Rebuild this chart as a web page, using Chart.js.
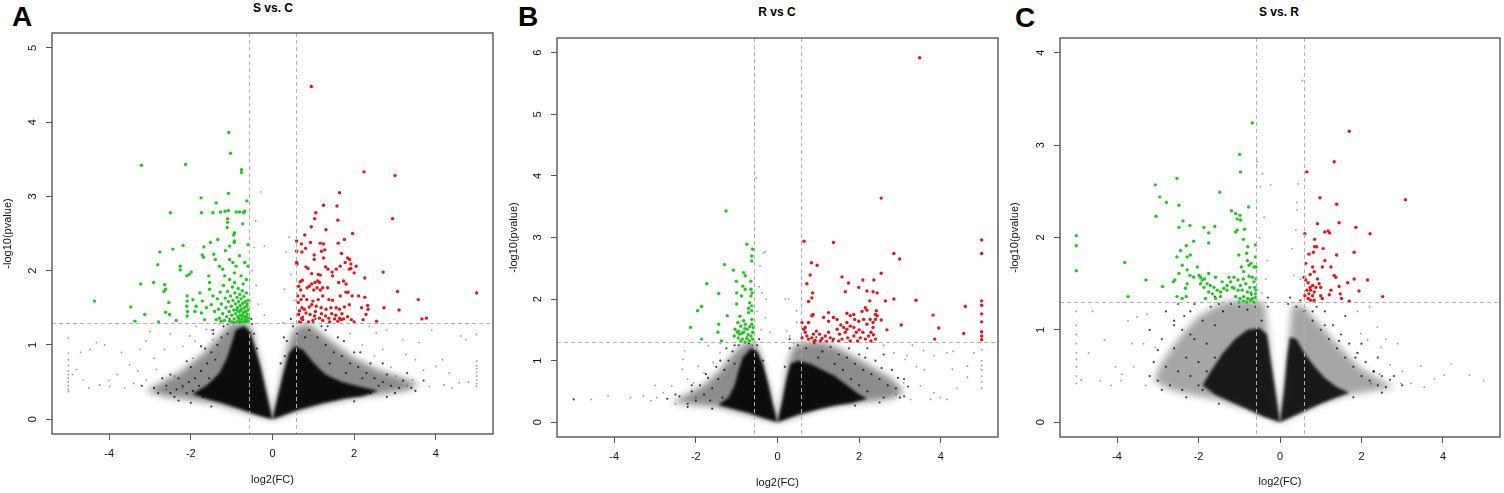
<!DOCTYPE html>
<html>
<head>
<meta charset="utf-8">
<script src="https://cdn.jsdelivr.net/npm/chart.js@4.4.0/dist/chart.umd.min.js"></script>
<style>
  body { margin: 0; background: #fff; width: 1504px; height: 493px; overflow: hidden; position: relative;
         font-family: "Liberation Sans", Arial, sans-serif; }
  canvas { position: absolute; top: 0; }
  .letter { position: absolute; font-weight: bold; font-size: 28px; line-height: 28px; }
  .title { position: absolute; width: 200px; text-align: center; font-weight: bold; font-size: 12px; line-height: 12px; }
</style>
</head>
<body>
<div class="letter" style="left:12px;top:3px">A</div>
<div class="letter" style="left:518px;top:3px">B</div>
<div class="letter" style="left:1015px;top:4px">C</div>
<div class="title" style="left:173px;top:2px">S vs. C</div>
<div class="title" style="left:677px;top:6px">R vs C</div>
<div class="title" style="left:1179px;top:6px">S vs. R</div>
<canvas id="cA" width="500" height="493" style="left:0px"></canvas>
<canvas id="cB" width="504" height="493" style="left:500px"></canvas>
<canvas id="cC" width="500" height="493" style="left:1004px"></canvas>
<script>
// thresholds: |log2FC| = log2(1.5), p = 0.05
const fcCut = [-0.585, 0.585];
const pCut = 1.301;
const xTicks = [-4, -2, 0, 2, 4];
const yTicksA = [0, 1, 2, 3, 4, 5];
const yTicksB = [0, 1, 2, 3, 4, 5, 6];
const yTicksC = [0, 1, 2, 3, 4];

// ---- S vs. C ----
const greenA = [[-1.07,3.86],[-1.03,3.58],[-3.21,3.42],[-2.13,3.43],[-0.76,3.36],[-0.76,3.32],[-1.08,3.04],[-1.75,2.98],[-1.38,2.91],[-0.63,2.94],
[-2.50,2.78],[-1.74,2.78],[-1.46,2.78],[-1.27,2.79],[-1.16,2.80],[-1.08,2.81],[-0.89,2.79],[-0.81,2.79],[-0.71,2.78],[-0.68,2.80],
[-1.10,2.70],[-1.10,2.65],[-1.11,2.58],[-0.73,2.63],[-0.93,2.51],[-0.95,2.48],[-0.93,2.40],[-0.94,2.38],[-1.34,2.42],[-2.19,2.34],
[-2.44,2.29],[-2.76,2.25],[-1.68,2.32],[-1.52,2.38],[-1.05,2.33],[-1.15,2.27],[-0.60,2.35],[-2.81,2.08],[-2.26,2.06],[-2.26,2.01],
[-2.10,1.93],[-2.04,1.95],[-1.99,1.98],[-1.72,2.21],[-1.69,2.18],[-1.44,2.22],[-1.40,2.15],[-1.56,1.93],[-1.54,1.84],[-1.30,2.06],
[-1.22,2.02],[-1.05,2.15],[-0.97,2.11],[-0.89,2.06],[-0.81,2.20],[-0.68,2.11],[-0.60,2.06],[-1.17,1.93],[-1.05,1.88],[-0.93,1.97],
[-0.77,1.93],[-0.64,1.88],[-3.23,1.82],[-2.91,1.84],[-2.64,1.81],[-2.62,1.75],[-2.66,1.72],[-2.54,1.57],[-2.52,1.41],[-3.47,1.51],
[-4.36,1.59],[-3.13,1.41],[-3.37,1.32],[-2.79,1.31],[-2.36,1.33],[-2.62,1.44],[-2.09,1.66],[-2.09,1.59],[-2.10,1.52],[-2.08,1.45],
[-2.09,1.39],[-1.95,1.61],[-1.87,1.52],[-1.90,1.45],[-1.78,1.70],[-1.72,1.59],[-1.74,1.43],[-1.66,1.34],[-1.62,1.50],[-1.54,1.75],
[-1.46,1.66],[-1.50,1.54],[-1.42,1.45],[-1.38,1.34],
[-1.35,1.62],[-1.32,1.48],[-1.30,1.36],[-1.28,1.71],[-1.25,1.55],[-1.22,1.42],[-1.20,1.80],[-1.18,1.33],[-1.16,1.63],[-1.14,1.50],
[-1.12,1.38],[-1.10,1.72],[-1.08,1.58],[-1.06,1.45],[-1.05,1.32],[-1.03,1.66],[-1.01,1.52],[-1.00,1.40],[-0.98,1.78],[-0.97,1.60],
[-0.95,1.47],[-0.94,1.35],[-0.92,1.70],[-0.91,1.55],[-0.90,1.42],[-0.88,1.31],[-0.87,1.64],[-0.86,1.50],[-0.85,1.38],[-0.84,1.76],
[-0.83,1.58],[-0.82,1.45],[-0.81,1.33],[-0.80,1.68],[-0.79,1.53],[-0.78,1.40],[-0.77,1.62],[-0.76,1.48],[-0.75,1.35],[-0.74,1.73],
[-0.73,1.56],[-0.72,1.43],[-0.71,1.31],[-0.70,1.65],[-0.69,1.50],[-0.68,1.38],[-0.67,1.58],[-0.66,1.45],[-0.65,1.34],[-0.64,1.70],
[-0.63,1.52],[-0.62,1.41],[-0.61,1.32],[-0.60,1.60],[-0.60,1.47],[-0.59,1.36],[-0.93,1.84],[-0.72,1.82],[-1.26,1.32],[-0.99,1.31],
[-0.78,1.31],[-0.66,1.31],[-0.70,1.44],[-0.74,1.39],[-0.64,1.37],[-0.68,1.33],[-0.83,1.36],[-0.88,1.47],[-0.79,1.46],[-0.62,1.55]];

const redA = [[0.95,4.48],[2.24,3.33],[3.00,3.28],[1.64,3.05],[1.25,2.88],[1.58,2.87],[1.06,2.78],[1.03,2.70],[1.60,2.68],[2.94,2.70],
[0.95,2.59],[1.31,2.55],[1.96,2.50],[0.79,2.48],[1.76,2.42],[0.59,2.40],[0.59,2.26],[0.59,2.11],[0.60,2.09],[0.71,2.36],
[0.72,2.25],[0.81,2.30],[0.93,2.38],[1.17,2.37],[1.25,2.36],[1.28,2.28],[1.20,2.26],[1.61,2.37],[1.69,2.23],[1.84,2.17],
[1.89,2.15],[1.92,2.09],[2.05,2.06],[2.00,1.97],[1.92,2.03],[1.88,2.02],[1.02,2.21],[1.02,2.15],[1.25,2.17],[1.30,2.05],
[1.36,2.02],[1.46,1.98],[1.47,1.93],[1.56,2.02],[1.66,2.06],[1.78,2.11],[0.82,2.05],[0.87,2.03],[0.96,1.96],[1.12,1.95],
[1.17,1.94],[2.26,1.90],[2.71,1.98],[3.06,1.72],[5.00,1.70],[3.57,1.61],[3.10,1.47],[2.73,1.50],[3.66,1.35],[3.77,1.36],
[2.55,1.32],[0.68,1.85],[0.73,1.87],[0.64,1.79],[0.69,1.74],[0.85,1.77],[0.90,1.79],[0.96,1.82],[1.04,1.84],[1.11,1.86],
[1.15,1.84],[1.09,1.77],[1.01,1.74],[1.17,1.74],[1.23,1.77],[1.35,1.77],[1.62,1.84],[1.74,1.86],[1.80,1.82],[1.85,1.71],
[1.95,1.66],[2.11,1.66],[2.26,1.64],[1.80,1.71],[1.66,1.66],[1.47,1.60],[1.38,1.61],[1.23,1.66],[1.12,1.61],[0.99,1.59],
[0.84,1.61],[0.70,1.61],[0.63,1.57],[0.72,1.50],[0.78,1.48],[0.90,1.51],[0.96,1.54],[1.07,1.52],[1.19,1.50],[1.31,1.48],
[1.43,1.50],[1.56,1.50],[1.64,1.48],[1.76,1.51],[1.88,1.54],[2.18,1.50],[2.33,1.53],[2.29,1.41],[2.34,1.48],[0.82,1.43],
[0.92,1.41],[1.03,1.39],[1.15,1.36],[1.30,1.39],[1.38,1.36],[1.52,1.35],[1.64,1.36],[1.74,1.35],[1.84,1.38],[1.93,1.34],
[2.22,1.34],[0.71,1.36],[0.64,1.41],[0.74,1.34],[0.99,1.33],[1.23,1.33],[1.68,1.34],[0.66,1.31],[0.88,1.31],[1.40,1.31],
[1.60,1.32],[2.00,1.31],[0.62,1.66],[0.66,1.46],[0.76,1.66],[1.05,1.45],[1.20,1.42],[1.45,1.42],[1.55,1.40],[1.70,1.42]];

const darkA = [[-1.2,1.25],[-1.1,1.15],[-1.35,1.0],[-1.5,0.9],[-1.6,0.75],[-1.75,0.65],[-1.9,0.55],[-2.05,0.5],[-2.2,0.45],[-2.35,0.4],
[-2.5,0.35],[-1.4,0.8],[-1.25,1.1],[-1.8,0.45],[-2.1,0.35],[-2.3,0.55],[-2.6,0.45],[-2.0,0.7],[-1.65,0.95],[-1.45,1.15],
[-0.95,1.3],[-0.5,1.28],[-0.45,1.15],[-0.38,0.95],[-1.7,0.3],[-2.4,0.3],[-2.8,0.35],[-2.7,0.55],[-1.95,0.38],[-1.55,0.55],
[-1.1,1.28],[-0.62,1.32],[-0.8,1.3],[0.5,1.25],[0.7,1.3],[0.9,1.2],[1.1,1.1],[1.3,1.0],[1.5,0.9],[1.7,0.85],
[1.9,0.75],[2.1,0.7],[2.3,0.62],[2.5,0.55],[2.7,0.5],[2.9,0.45],[3.1,0.42],[1.2,1.25],[1.0,1.3],[0.35,1.05],
[0.3,0.85],[1.6,1.1],[2.0,0.9],[2.4,0.75],[2.8,0.6],[3.2,0.52],[3.4,0.42],[1.4,0.75],[1.8,0.62],[2.2,0.55],
[2.6,0.45],[0.8,1.1],[0.6,1.15],[1.3,1.2],[3.0,0.35],[2.4,0.35],
[-2.9,0.42],[-2.5,0.6],[-2.1,0.78],[-1.75,0.98],[-1.45,1.2],[-1.05,1.35],[-0.7,1.38],[-0.52,1.35],[-3.2,0.45],[-2.3,0.25],
[-1.5,0.17],[-2.0,0.22],[0.45,1.35],[0.75,1.38],[1.05,1.35],[1.35,1.25],[1.75,1.05],[2.15,0.9],[2.7,0.75],[3.3,0.62],
[3.7,0.52],[3.5,0.38],[2.8,0.3],[2.0,0.24],[0.2,0.75],[0.28,1.1]];

const lightA = [[-5.0,1.09],[-5.0,0.89],[-5.0,0.80],[-5.0,0.72],[-5.0,0.65],[-5.0,0.60],[-5.0,0.55],[-5.0,0.50],[-5.0,0.45],[-5.0,0.40],
[-5.0,0.37],[-4.64,0.53],[-4.47,0.94],[-4.31,1.03],[-4.11,1.00],[-3.99,0.44],[-3.50,0.73],[-3.25,0.94],[-3.0,1.18],[-2.84,0.67],
[-2.64,0.94],[-2.40,0.58],[-2.19,0.98],[-2.03,1.12],[-1.87,1.25],[-1.62,1.21],[-1.46,1.07],[-1.95,0.82],[-3.62,0.42],[-4.23,0.46],
[-4.80,0.67],[-2.60,0.40],[-3.09,0.53],[2.70,0.94],[3.19,1.07],[3.27,0.87],[3.59,1.03],[4.0,0.71],[4.33,0.62],[4.61,1.12],
[4.74,1.07],[4.57,0.49],[3.84,0.44],[4.16,0.80],[4.99,1.14],[5.0,0.78],[5.0,0.72],[5.0,0.68],[5.0,0.63],[5.0,0.58],
[5.0,0.53],[5.0,0.48],[5.0,0.44],[3.02,0.58],[3.43,0.53],[2.54,1.16],[2.37,1.25],[-0.29,3.06],[-0.41,2.67],[-0.45,2.31],
[-0.20,2.33],[0.33,2.25],[0.41,2.45],[-0.50,2.0],[-0.40,1.8],[-0.35,1.55],[0.30,1.75],[0.45,1.95],[0.55,1.6],[-0.55,1.6],
[-3.8,0.6],[-3.4,0.48],[-4.5,0.42],[-4.0,0.52],[-3.7,0.9],[-2.9,0.82],[-3.3,0.65],[-2.2,0.42],[3.7,0.66],[4.4,0.42],
[3.3,0.45],[2.9,0.7],[4.2,0.46],[4.8,0.5],[2.8,1.2],[3.9,1.2],[-4.9,0.6],[-4.7,0.9],[-3.1,1.05],[-2.5,1.15],
[-1.9,1.05],[-1.3,1.28],[-0.2,1.4],[0.25,1.3],[1.4,1.3],[1.9,1.15],[2.2,1.0],[2.5,0.85],[3.5,0.8],[-1.5,1.2]];

const coreAL = [[0,0],[-0.12,0.28],[-0.3,0.72],[-0.45,1.0],[-0.55,1.18],[-0.7,1.25],[-0.9,1.2],[-1.0,1.02],[-1.12,0.82],[-1.3,0.62],[-1.6,0.46],[-1.95,0.34],[-1.6,0.27],[-1.2,0.21],[-0.8,0.14],[-0.4,0.06],[0,0]];
const haloAL = [[0,0],[-0.5,1.2],[-0.62,1.3],[-1.0,1.3],[-1.3,1.12],[-1.7,0.88],[-2.2,0.66],[-2.7,0.5],[-3.1,0.38],[-2.6,0.3],[-2.0,0.26],[-1.4,0.21],[-0.7,0.1],[0,0]];
const coreAR = [[0,0],[0.12,0.28],[0.27,0.62],[0.4,0.88],[0.55,0.98],[0.75,0.93],[1.0,0.76],[1.3,0.6],[1.7,0.5],[2.2,0.43],[2.6,0.38],[2.2,0.31],[1.8,0.28],[1.2,0.21],[0.6,0.12],[0,0]];
const haloAR = [[0,0],[0.17,0.42],[0.32,0.85],[0.44,1.1],[0.6,1.25],[0.9,1.28],[1.2,1.15],[1.6,0.98],[2.0,0.82],[2.6,0.66],[3.2,0.55],[3.6,0.47],[3.3,0.39],[2.7,0.34],[2.0,0.29],[1.3,0.21],[0.6,0.11],[0,0]];

// ---- R vs C ----
const greenB = [[-1.26,3.43],[-0.75,2.89],[-0.61,2.81],[-0.63,2.70],[-0.63,2.62],[-1.30,2.56],[-1.08,2.47],[-0.83,2.43],[-0.79,2.38],[-1.01,2.29],
[-0.65,2.29],[-1.73,2.25],[-0.85,2.21],[-0.79,2.16],[-0.65,2.16],[-0.62,2.10],[-0.65,2.05],[-1.44,2.09],[-1.00,2.10],[-0.88,2.05],
[-1.00,1.92],[-0.68,1.94],[-0.63,1.89],[-1.86,1.88],[-1.96,1.81],[-1.23,1.73],[-0.71,1.85],[-0.71,1.78],[-0.63,1.81],[-0.92,1.72],
[-0.83,1.65],[-0.97,1.62],[-0.90,1.56],[-0.79,1.59],[-0.74,1.51],[-0.63,1.67],[-0.63,1.59],[-1.44,1.59],[-2.13,1.54],[-1.46,1.46],
[-1.04,1.51],[-0.98,1.46],[-0.92,1.43],[-0.83,1.46],[-1.06,1.40],[-0.96,1.37],[-0.86,1.35],[-0.75,1.36],[-0.65,1.40],[-0.90,1.32],
[-0.79,1.30],[-0.69,1.32],[-0.61,1.35],[-1.86,1.35],[-1.37,1.32],[-0.61,1.46],[-0.59,1.54],[-0.72,1.42],[-0.80,1.52],[-0.95,1.48],
[-0.68,1.55],[-0.86,1.45]];

const redB = [[3.48,5.92],[2.54,3.64],[0.65,2.94],[1.37,2.92],[5.00,2.96],[5.00,2.74],[2.85,2.74],[2.99,2.65],[0.83,2.59],[0.97,2.55],
[2.54,2.42],[0.80,2.39],[1.58,2.36],[2.36,2.31],[2.09,2.31],[1.74,2.26],[0.72,2.25],[1.99,2.19],[2.19,2.13],[2.34,2.12],
[2.44,2.10],[0.86,2.10],[1.66,2.12],[0.84,2.02],[0.76,1.96],[2.64,1.97],[2.85,2.00],[3.39,1.98],[2.26,1.97],[5.00,1.97],
[5.00,1.90],[4.60,1.88],[2.15,1.86],[2.19,1.82],[2.07,1.80],[2.42,1.81],[2.40,1.75],[2.44,1.73],[2.40,1.67],[2.34,1.62],
[3.81,1.74],[5.00,1.76],[0.87,1.75],[0.84,1.73],[1.25,1.78],[1.37,1.70],[1.13,1.70],[1.25,1.64],[1.70,1.77],[1.78,1.73],
[1.87,1.75],[1.89,1.67],[1.46,1.67],[1.70,1.62],[1.78,1.56],[1.99,1.64],[2.11,1.67],[2.27,1.67],[2.19,1.59],[2.34,1.54],
[2.54,1.66],[5.00,1.63],[3.03,1.58],[3.95,1.53],[2.68,1.50],[5.00,1.47],[5.00,1.40],[5.00,1.34],[4.56,1.44],[3.85,1.35],
[0.60,1.62],[0.64,1.51],[0.68,1.46],[0.72,1.40],[0.60,1.37],[0.76,1.35],[0.84,1.37],[0.88,1.43],[0.95,1.48],[1.03,1.43],
[1.09,1.36],[1.17,1.40],[1.25,1.46],[1.29,1.37],[1.37,1.35],[1.46,1.51],[1.52,1.43],[1.58,1.35],[1.66,1.46],[1.72,1.37],
[1.78,1.32],[1.87,1.40],[1.93,1.46],[2.03,1.37],[2.09,1.46],[2.15,1.35],[2.23,1.40],[2.29,1.46],[2.29,1.32],[1.50,1.32],
[0.92,1.33],[1.05,1.32],[1.96,1.32],[1.70,1.51],[1.62,1.54],[0.68,1.54],[0.76,1.62],[1.87,1.54],[1.20,1.31],[0.90,1.31],
[2.40,1.35],[2.00,1.50],[1.55,1.58],[2.35,1.42]];

const darkB = [[-4.99,0.37],[-1.2,1.0],[-1.3,0.85],[-1.45,0.7],[-1.6,0.55],[-1.8,0.45],[-2.0,0.35],[-2.2,0.3],[-1.1,1.15],[-0.95,1.25],
[-1.25,1.2],[-1.5,0.9],[-1.7,0.72],[-1.9,0.6],[-2.1,0.5],[-2.4,0.42],[-0.7,1.28],[-0.5,1.25],[-0.35,1.0],[-1.05,0.95],
[-1.65,0.35],[-1.35,0.4],[0.3,1.2],[0.5,1.25],[0.7,1.2],[0.9,1.28],[1.1,1.15],[1.3,1.22],[1.5,1.1],[1.7,1.05],
[1.9,0.95],[2.1,0.85],[2.3,0.78],[2.5,0.7],[2.7,0.6],[2.9,0.55],[3.0,0.4],[2.6,0.4],[2.2,0.5],[1.8,0.7],
[1.6,0.85],[2.0,1.1],[2.4,1.0],[2.8,0.85],[2.6,1.1],[2.2,1.2],[1.0,1.05],[3.1,0.7],[2.0,0.6],[1.4,0.95],
[-0.45,1.35],[-0.75,1.38],[-1.05,1.25],[-1.4,1.0],[-1.75,0.78],[-2.1,0.6],[-2.5,0.45],[-2.7,0.38],[-2.2,0.25],[-1.6,0.22],
[0.3,1.35],[0.6,1.38],[0.95,1.38],[1.35,1.32],[1.75,1.2],[2.15,1.05],[2.55,0.88],[2.95,0.72],[3.2,0.58],[3.1,0.42],
[2.5,0.32],[1.9,0.27],[0.18,0.9]];

const lightB = [[-4.56,0.37],[-4.15,0.43],[-3.29,0.43],[-3.1,0.35],[-2.96,0.40],[-2.80,0.48],[-2.59,0.59],[-2.32,1.02],[-2.27,1.16],[-2.33,0.86],
[-2.06,0.64],[-1.94,0.91],[-1.69,1.24],[-1.57,0.97],[-1.41,1.13],[-0.52,3.97],[-0.34,2.75],[-0.30,2.77],[-0.43,2.54],[-0.38,2.10],
[-0.28,2.0],[-0.18,1.46],[0.19,2.0],[0.27,2.0],[0.47,1.81],[0.47,1.62],[0.23,1.48],[0.39,1.29],[2.85,1.13],[3.17,1.08],
[3.58,1.16],[3.83,1.08],[4.15,1.13],[4.81,1.13],[5.0,1.18],[5.0,1.0],[5.0,0.92],[5.0,0.85],[5.0,0.75],[5.0,0.65],
[5.0,0.55],[4.28,0.86],[4.65,0.73],[4.65,0.91],[4.15,0.37],[3.83,0.48],[3.5,0.59],[3.26,0.37],[3.09,0.64],[3.13,1.02],
[3.75,0.37],[3.99,0.40],[-0.45,2.2],[-0.5,1.8],[-0.3,1.7],[-0.4,1.5],[0.3,1.4],[-3.6,0.4],[-2.2,0.7],[-2.0,0.4],
[-1.8,0.8],[-3.0,0.6],[2.6,1.25],[3.4,0.9],[2.9,0.45],[4.4,0.55],[3.6,0.85],[-2.5,0.3],[-1.4,1.28],[-0.62,1.25],
[3.3,1.25],[4.3,1.15]];

const coreBL = [[0,0],[-0.12,0.3],[-0.22,0.6],[-0.36,0.95],[-0.5,1.15],[-0.65,1.2],[-0.85,1.05],[-0.95,0.85],[-1.05,0.6],[-1.2,0.4],[-1.45,0.28],[-1.1,0.22],[-0.7,0.15],[-0.35,0.07],[0,0]];
const haloBL = [[0,0],[-0.42,1.1],[-0.55,1.3],[-0.8,1.3],[-1.1,1.1],[-1.4,0.85],[-1.8,0.6],[-2.3,0.42],[-2.6,0.32],[-2.0,0.28],[-1.5,0.25],[-0.8,0.14],[0,0]];
const coreBR = [[0,0],[0.12,0.35],[0.22,0.7],[0.32,0.95],[0.5,1.0],[0.8,0.95],[1.1,0.85],[1.4,0.75],[1.7,0.6],[2.0,0.45],[2.2,0.38],[1.8,0.31],[1.4,0.27],[1.0,0.21],[0.5,0.12],[0,0]];
const haloBR = [[0,0],[0.17,0.6],[0.27,1.0],[0.4,1.25],[0.7,1.3],[1.1,1.3],[1.5,1.2],[1.9,1.05],[2.3,0.9],[2.8,0.7],[3.1,0.5],[2.8,0.38],[2.3,0.34],[1.7,0.3],[1.0,0.22],[0,0]];

// ---- S vs. R ----
const greenC = [[-0.68,3.24],[-0.99,2.90],[-0.97,2.71],[-2.53,2.64],[-3.06,2.57],[-2.95,2.44],[-2.79,2.38],[-2.48,2.35],[-1.48,2.49],[-0.77,2.33],
[-1.19,2.29],[-1.09,2.26],[-0.98,2.24],[-1.05,2.20],[-0.97,2.19],[-3.04,2.23],[-2.38,2.18],[-2.48,2.11],[-2.21,2.13],[-1.87,2.11],
[-1.60,2.12],[-1.75,2.05],[-1.09,2.06],[-1.05,2.08],[-0.87,2.09],[-0.90,1.98],[-0.79,1.90],[-0.60,1.92],[-5.00,2.02],[-5.00,1.91],
[-5.00,1.64],[-2.12,1.96],[-1.75,1.94],[-2.30,1.91],[-2.44,1.86],[-2.53,1.79],[-2.28,1.79],[-2.20,1.81],[-2.40,1.70],[-2.03,1.68],
[-2.28,1.65],[-2.48,1.61],[-2.21,1.59],[-2.12,1.57],[-1.99,1.59],[-3.81,1.73],[-3.73,1.36],[-3.29,1.54],[-2.88,1.47],[-2.62,1.52],
[-2.58,1.54],[-2.53,1.36],[-2.40,1.34],[-2.30,1.36],[-2.32,1.45],[-2.28,1.50],[-1.95,1.57],[-1.91,1.54],[-1.85,1.55],[-1.79,1.50],
[-1.71,1.48],[-1.62,1.46],[-1.54,1.43],[-1.46,1.41],[-1.75,1.41],[-1.87,1.46],[-1.95,1.50],[-1.66,1.39],[-1.83,1.34],[-1.58,1.34],
[-1.38,1.45],[-1.30,1.48],[-1.21,1.52],[-1.13,1.57],[-1.25,1.57],[-1.42,1.52],[-1.46,1.36],[-1.30,1.43],[-1.17,1.46],[-1.58,1.57],
[-1.75,1.61],[-1.01,1.81],[-0.82,1.83],[-0.80,1.75],[-0.76,1.70],[-0.95,1.68],[-0.89,1.63],[-0.71,1.72],[-0.64,1.68],[-0.60,1.79],
[-0.68,1.57],[-0.76,1.58],[-0.90,1.55],[-1.03,1.54],[-0.97,1.48],[-0.84,1.50],[-0.74,1.46],[-0.64,1.52],[-0.62,1.46],[-1.13,1.45],
[-1.03,1.43],[-0.93,1.43],[-0.80,1.41],[-0.71,1.40],[-0.60,1.39],[-1.09,1.36],[-0.98,1.34],[-0.89,1.36],[-0.79,1.34],[-0.68,1.34],
[-0.60,1.35],[-0.82,1.30],[-0.72,1.32],[-1.01,1.30],[-0.90,1.31],[-0.64,1.30],[-0.59,1.68],[-0.59,1.55],[-0.59,1.43]];

const redC = [[1.70,3.15],[1.33,2.82],[0.66,2.71],[3.08,2.41],[0.98,2.43],[1.39,2.36],[0.92,2.15],[1.45,2.16],[1.86,2.11],[1.10,2.06],
[1.18,2.07],[1.22,2.05],[0.61,2.04],[2.21,2.04],[0.85,1.98],[0.85,1.90],[0.90,1.90],[1.06,1.88],[1.82,1.84],[0.71,1.82],
[0.82,1.84],[1.39,1.81],[1.10,1.75],[1.25,1.68],[1.04,1.68],[0.63,1.72],[0.80,1.68],[0.84,1.63],[0.74,1.60],[1.33,1.59],
[1.37,1.57],[1.82,1.55],[2.15,1.54],[0.59,1.57],[0.63,1.54],[0.69,1.51],[0.92,1.55],[0.96,1.50],[0.88,1.46],[1.00,1.46],
[1.66,1.51],[1.45,1.47],[1.25,1.43],[1.94,1.42],[0.80,1.48],[0.75,1.43],[0.84,1.41],[0.71,1.39],[0.80,1.37],[0.69,1.34],
[0.75,1.32],[0.66,1.43],[0.61,1.37],[0.84,1.32],[0.74,1.46],[1.21,1.38],[1.48,1.39],[1.51,1.34],[2.52,1.36],[1.70,1.31],
[1.00,1.37],[1.04,1.34]];

const darkC = [[-3.0,0.45],[-2.8,0.6],[-2.6,0.8],[-2.4,1.0],[-2.2,1.2],[-2.7,0.4],[-2.5,0.55],[-2.3,0.7],[-2.1,0.9],[-1.9,1.1],
[-1.7,1.25],[-2.4,0.35],[-2.2,0.5],[-2.0,0.65],[-1.8,0.85],[-1.6,1.05],[-1.4,1.2],[-1.2,1.28],[-2.0,0.4],[-1.8,0.55],
[-1.6,0.7],[-1.9,0.35],[-2.6,1.1],[-2.9,0.9],[-3.1,0.65],[-2.2,0.95],[-1.5,1.28],[-1.0,1.25],[-0.8,1.22],[-0.6,1.25],
[-0.45,1.1],[-0.3,1.25],[-2.8,1.2],[-2.5,1.28],[-3.2,1.0],[-2.35,1.15],[0.2,1.28],[0.4,1.25],[0.6,1.2],[0.8,1.1],
[1.0,1.0],[1.2,0.9],[1.4,0.8],[1.6,0.7],[1.8,0.6],[2.0,0.5],[2.2,0.45],[2.4,0.4],[1.1,1.2],[1.3,1.05],
[1.5,0.95],[1.7,0.85],[1.9,0.75],[2.1,0.65],[2.3,0.55],[2.5,0.5],[2.6,0.38],[0.9,1.25],[1.6,1.15],[2.0,0.85],
[2.4,0.7],[2.8,0.5],
[-0.3,1.35],[-0.7,1.38],[-1.1,1.36],[-1.6,1.36],[-2.1,1.28],[-2.6,1.05],[-3.0,0.78],[-3.2,0.5],[-2.9,0.35],[-2.3,0.27],
[-1.5,0.2],[0.25,1.35],[0.5,1.32],[0.8,1.2],[1.1,1.05],[1.45,0.88],[1.85,0.7],[2.3,0.55],[2.7,0.46],[3.0,0.4],
[2.5,0.32],[1.8,0.27]];

const lightC = [[-5.0,1.2],[-5.0,1.05],[-5.0,0.95],[-5.0,0.85],[-5.0,0.75],[-5.0,0.68],[-5.0,0.6],[-5.0,0.5],[-5.0,0.42],[-4.88,0.46],
[-4.41,0.45],[-4.31,0.89],[-4.14,0.40],[-4.04,0.60],[-3.73,1.10],[-3.51,1.14],[-3.26,1.17],[-3.35,0.85],[-3.06,0.81],[-3.63,0.85],
[-3.59,0.60],[-3.88,0.52],[-4.7,0.75],[-4.6,1.2],[-3.9,0.45],[-3.3,0.4],[2.89,0.85],[3.21,0.42],[3.46,0.61],[3.79,0.47],
[4.20,0.63],[4.03,0.51],[4.65,0.51],[5.0,0.45],[3.54,0.38],[2.97,0.42],[2.39,1.03],[2.48,0.81],[2.15,0.89],[1.98,0.96],
[2.44,0.52],[2.23,0.42],[0.55,3.70],[0.45,2.58],[0.41,2.38],[-0.56,2.82],[-0.43,2.69],[-0.48,2.55],[-0.23,2.57],[-0.39,2.22],
[0.39,2.08],[0.30,1.88],[0.34,1.59],[-0.31,1.75],[-0.35,1.55],[-0.5,2.0],[0.5,1.55],[-0.45,1.4],[0.42,2.3],[2.7,0.62],
[3.0,0.55],[2.6,0.9],[1.9,1.2],[2.2,1.25]];

const coreCL = [[0,0],[-0.1,0.3],[-0.22,0.65],[-0.32,0.95],[-0.5,1.02],[-0.8,1.0],[-1.1,0.9],[-1.4,0.75],[-1.7,0.55],[-1.9,0.4],[-1.6,0.3],[-1.2,0.22],[-0.8,0.14],[-0.4,0.06],[0,0]];
const haloCL = [[0,0],[-0.18,0.5],[-0.3,1.0],[-0.38,1.3],[-0.8,1.32],[-1.4,1.3],[-2.0,1.15],[-2.5,0.9],[-2.9,0.65],[-3.1,0.45],[-2.7,0.35],[-2.2,0.3],[-1.6,0.25],[-0.8,0.14],[0,0]];
const coreCR = [[0,0],[0.1,0.35],[0.17,0.7],[0.24,0.92],[0.4,0.9],[0.6,0.75],[0.85,0.6],[1.1,0.48],[1.4,0.38],[1.7,0.32],[1.4,0.27],[1.0,0.2],[0.5,0.1],[0,0]];
const haloCR = [[0,0],[0.14,0.5],[0.22,0.9],[0.3,1.28],[0.6,1.25],[0.9,1.1],[1.2,0.95],[1.6,0.75],[2.0,0.58],[2.5,0.45],[2.8,0.38],[2.3,0.34],[1.7,0.3],[1.0,0.2],[0,0]];

const toXY = pairs => pairs.map(([x, y]) => ({ x, y }));

// soften the density areas so they read like overplotted dots.
// registered ahead of the Filler so the blur is active when the area is filled
const soften = {
  id: 'soften',
  beforeDatasetDraw(chart, args) {
    const b = chart.data.datasets[args.index].blur;
    if (b) { chart.ctx.save(); chart.ctx.filter = 'blur(' + b + 'px)'; }
  },
  afterDatasetDraw(chart, args) {
    if (chart.data.datasets[args.index].blur) chart.ctx.restore();
  }
};
Chart.unregister(Chart.Filler);
Chart.register(soften);
Chart.register(Chart.Filler);

// box, threshold lines and rotated y tick labels (like R's abline + box + las=0)
const frame = {
  id: 'frame',
  afterDatasetsDraw(chart, args, opts) {
    const { ctx, chartArea: a, scales: { x, y } } = chart;
    ctx.save();
    ctx.strokeStyle = '#b2b2b2';
    ctx.lineWidth = 1;
    ctx.setLineDash([4, 3]);
    fcCut.forEach(v => {
      const px = Math.round(x.getPixelForValue(v)) + 0.5;
      ctx.beginPath(); ctx.moveTo(px, a.top); ctx.lineTo(px, a.bottom); ctx.stroke();
    });
    const py = Math.round(y.getPixelForValue(pCut)) + 0.5;
    ctx.beginPath(); ctx.moveTo(a.left, py); ctx.lineTo(a.right, py); ctx.stroke();
    ctx.setLineDash([]);
    ctx.strokeStyle = '#555';
    ctx.lineWidth = 1.4;
    ctx.strokeRect(a.left, a.top, a.right - a.left, a.bottom - a.top);
    ctx.fillStyle = '#111';
    ctx.font = '11px "Liberation Sans", Arial, sans-serif';
    ctx.textAlign = 'center';
    ctx.textBaseline = 'middle';
    opts.yTicks.forEach(v => {
      ctx.save();
      ctx.translate(a.left - 19, y.getPixelForValue(v));
      ctx.rotate(-Math.PI / 2);
      ctx.fillText(String(v), 0, 0);
      ctx.restore();
    });
    ctx.restore();
  }
};

function volcano(id, p) {
  const pts = (data, color, r, order) => ({
    data: toXY(data), pointRadius: r, pointBackgroundColor: color, pointBorderWidth: 0,
    pointHoverRadius: r, showLine: false, order: order
  });
  const area = (data, color, blur, order) => ({
    data: toXY(data), showLine: true, fill: 'shape', backgroundColor: color, blur: blur,
    borderWidth: 0, borderColor: 'rgba(0,0,0,0)', pointRadius: 0, tension: 0, order: order
  });
  const halo = 'rgba(0,0,0,' + p.haloAlpha + ')';
  const core = 'rgba(5,5,5,' + p.coreAlpha + ')';
  new Chart(document.getElementById(id), {
    type: 'scatter',
    data: {
      datasets: [
        area(p.haloL, halo, 3.5, 6),
        area(p.haloR, halo, 3.5, 6),
        area(p.coreL, core, 1.5, 5),
        area(p.coreR, core, 1.5, 5),
        pts(p.light, 'rgba(0,0,0,0.4)', 0.9, 4),
        pts(p.dark, 'rgba(0,0,0,0.75)', 1.1, 3),
        pts(p.green, '#1fc81f', 1.7, 1),
        pts(p.red, '#e3161b', 1.7, 1)
      ]
    },
    options: {
      responsive: false,
      animation: false,
      events: [],
      layout: { padding: { left: 0, right: p.padRight, top: p.padTop, bottom: 0 } },
      plugins: { legend: { display: false }, tooltip: { enabled: false }, frame: { yTicks: p.yTicks } },
      scales: {
        x: {
          type: 'linear', min: -5.4, max: 5.4,
          afterBuildTicks: s => { s.ticks = xTicks.map(v => ({ value: v })); },
          afterFit: s => { s.height = p.xHeight; },
          grid: { drawOnChartArea: false, drawTicks: true, tickLength: 6, color: '#555', lineWidth: 1 },
          border: { display: false },
          ticks: { color: '#111', padding: 7, maxRotation: 0, font: { family: '"Liberation Sans", Arial', size: 11 } },
          title: { display: true, text: 'log2(FC)', color: '#111', font: { family: '"Liberation Sans", Arial', size: 11 },
                   padding: { top: 0, bottom: p.xTitlePad } }
        },
        y: {
          type: 'linear', min: p.yMin, max: p.yMax,
          afterBuildTicks: s => { s.ticks = p.yTicks.map(v => ({ value: v })); },
          afterFit: s => { s.width = p.yWidth; },
          grid: { drawOnChartArea: false, drawTicks: true, tickLength: 6, color: '#555', lineWidth: 1 },
          border: { display: false },
          ticks: { display: false },
          title: { display: true, text: '-log10(pvalue)', color: '#111', font: { family: '"Liberation Sans", Arial', size: 11 },
                   padding: { top: p.yTitlePad, bottom: 0 } }
        }
      }
    },
    plugins: [frame]
  });
}

volcano('cA', { green: greenA, red: redA, dark: darkA, light: lightA, coreL: coreAL, coreR: coreAR, haloL: haloAL, haloR: haloAR,
  haloAlpha: 0.45, coreAlpha: 0.95,
  yMin: -0.2, yMax: 5.2, yTicks: yTicksA, yWidth: 52, xHeight: 59, padTop: 33, padRight: 7, xTitlePad: 6, yTitlePad: 1 });
volcano('cB', { green: greenB, red: redB, dark: darkB, light: lightB, coreL: coreBL, coreR: coreBR, haloL: haloBL, haloR: haloBR,
  haloAlpha: 0.45, coreAlpha: 0.95,
  yMin: -0.24, yMax: 6.24, yTicks: yTicksB, yWidth: 57, xHeight: 56, padTop: 38, padRight: 6, xTitlePad: 3, yTitlePad: 7 });
volcano('cC', { green: greenC, red: redC, dark: darkC, light: lightC, coreL: coreCL, coreR: coreCR, haloL: haloCL, haloR: haloCR,
  haloAlpha: 0.35, coreAlpha: 0.88,
  yMin: -0.16, yMax: 4.16, yTicks: yTicksC, yWidth: 56, xHeight: 56, padTop: 38, padRight: 4, xTitlePad: 4, yTitlePad: 4 });
</script>
</body>
</html>
